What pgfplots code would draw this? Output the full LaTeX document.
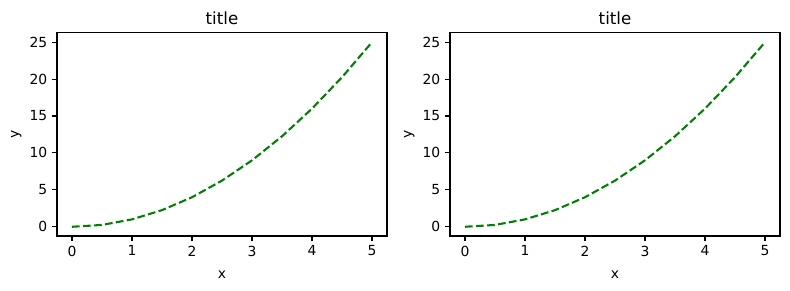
\documentclass[border=0pt]{standalone}
\usepackage{pgfplots}
\pgfplotsset{compat=1.18}
\usepackage{fontspec}
\setmainfont{DejaVu Sans}
\pgfplotstableread{
x y
0 0
0.5 0.25
1 1
1.5 2.25
2 4
2.5 6.25
3 9
3.5 12.25
4 16
4.5 20.25
5 25
}\datatab
\definecolor{mplgreen}{RGB}{0,128,0}
\pgfplotsset{
  myax/.style={
    scale only axis, width=237.6pt, height=146.2pt,
    xmin=-0.25, xmax=5.25, ymin=-1.25, ymax=26.25,
    xtick={0,1,2,3,4,5}, ytick={0,5,10,15,20,25},
    tick align=outside, tick pos=left,
    major tick length=3.5pt,
    axis line style={line width=0.8pt},
    every tick/.style={line width=0.8pt, black},
    /pgf/number format/assume math mode=true,
    tick label style={font=\fontsize{10}{12}\selectfont},
    label style={font=\fontsize{10}{12}\selectfont},
    title style={font=\fontsize{12}{14}\selectfont, yshift=-3.5pt},
    xlabel={x}, ylabel={y}, title={title},
    xlabel style={yshift=-3.5pt},
    ylabel style={yshift=-1pt},
  }
}
\begin{document}
\begin{tikzpicture}
\useasboundingbox (0,0) rectangle (568.8pt,208.8pt);
\begin{axis}[myax, at={(41.04pt,38.88pt)}, anchor=south west]
\addplot[mplgreen, line width=1.5pt, dash pattern=on 5.55pt off 2.4pt] table[x=x,y=y]{\datatab};
\end{axis}
\begin{axis}[myax, at={(324pt,38.88pt)}, anchor=south west]
\addplot[mplgreen, line width=1.5pt, dash pattern=on 5.55pt off 2.4pt] table[x=x,y=y]{\datatab};
\end{axis}
\end{tikzpicture}
\end{document}
